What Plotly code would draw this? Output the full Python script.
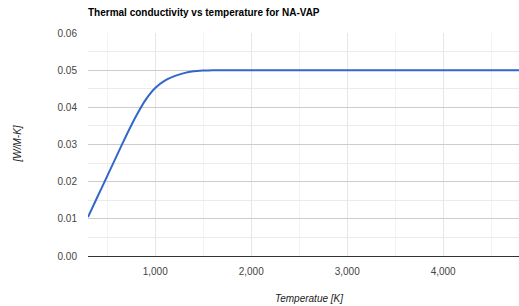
import plotly.graph_objects as go

temperature = [300, 400, 500, 600, 700, 800, 900, 1000, 1100, 1200, 1300, 1400, 1500, 1600,
               1700, 1800, 2000, 2500, 3000, 3500, 4000, 4500, 4800]
conductivity = [0.0105, 0.0160, 0.0215, 0.0270, 0.0325, 0.0376, 0.0420, 0.0452, 0.0472,
                0.0484, 0.0492, 0.0497, 0.0499, 0.0500,
                0.0500, 0.0500, 0.0500, 0.0500, 0.0500, 0.0500, 0.0500, 0.0500, 0.0500]
y_ticks = [0.00, 0.01, 0.02, 0.03, 0.04, 0.05, 0.06]
y_labels = ["0.00", "0.01", "0.02", "0.03", "0.04", "0.05", "0.06"]
x_ticks = [1000, 2000, 3000, 4000]
x_labels = ["1,000", "2,000", "3,000", "4,000"]

FONT = "Arial, Liberation Sans, sans-serif"

fig = go.Figure()
fig.add_trace(go.Scatter(
    x=temperature, y=conductivity, mode="lines",
    line=dict(color="#3366cc", width=2, shape="spline", smoothing=0.5),
    hoverinfo="x+y", showlegend=False,
))

W, H = 519, 306
L, R, T, B = 88, 0, 33, 50
pw, ph = W - L - R, H - T - B

fig.update_layout(
    width=W, height=H,
    margin=dict(l=L, r=R, t=T, b=B),
    paper_bgcolor="white", plot_bgcolor="white",
    font=dict(family=FONT, size=10, color="#444"),
    title=dict(text="<b>Thermal conductivity vs temperature for NA-VAP</b>",
               font=dict(family=FONT, size=10, color="#000"),
               xref="container", yref="container",
               x=L / W, xanchor="left", y=1 - 12 / H, yanchor="middle"),
    xaxis=dict(
        range=[300, 4790], tickvals=x_ticks, ticktext=x_labels,
        showgrid=True, gridcolor="#e6e6e6", gridwidth=1,
        minor=dict(tickvals=[500, 1500, 2500, 3500, 4500], showgrid=True, gridcolor="#f3f3f3"),
        zeroline=False, showline=True, linecolor="#333", linewidth=1,
        ticks="", ticklabelstandoff=6, fixedrange=True,
    ),
    yaxis=dict(
        range=[0, 0.06], tickvals=y_ticks, ticktext=y_labels,
        showgrid=True, gridcolor="#cccccc", gridwidth=1,
        minor=dict(tickvals=[0.005, 0.015, 0.025, 0.035, 0.045, 0.055], showgrid=True, gridcolor="#ebebeb"),
        zeroline=False, showline=False,
        ticks="", ticklabelstandoff=10, fixedrange=True,
    ),
    annotations=[
        dict(text="<i>[W/M-K]</i>", xref="paper", yref="paper",
             x=(17 - L) / pw, y=0.5, xanchor="center", yanchor="middle",
             textangle=-90, showarrow=False, font=dict(family=FONT, size=10, color="#222")),
        dict(text="<i>Temperatue [K]</i>", xref="paper", yref="paper",
             x=(309 - L) / pw, y=(T + ph - 298) / ph, xanchor="center", yanchor="middle",
             showarrow=False, font=dict(family=FONT, size=10, color="#222")),
    ],
)

fig.write_html("out.html", config={"displayModeBar": False},
               post_script="document.body.style.margin='0';document.body.style.overflow='hidden';")
